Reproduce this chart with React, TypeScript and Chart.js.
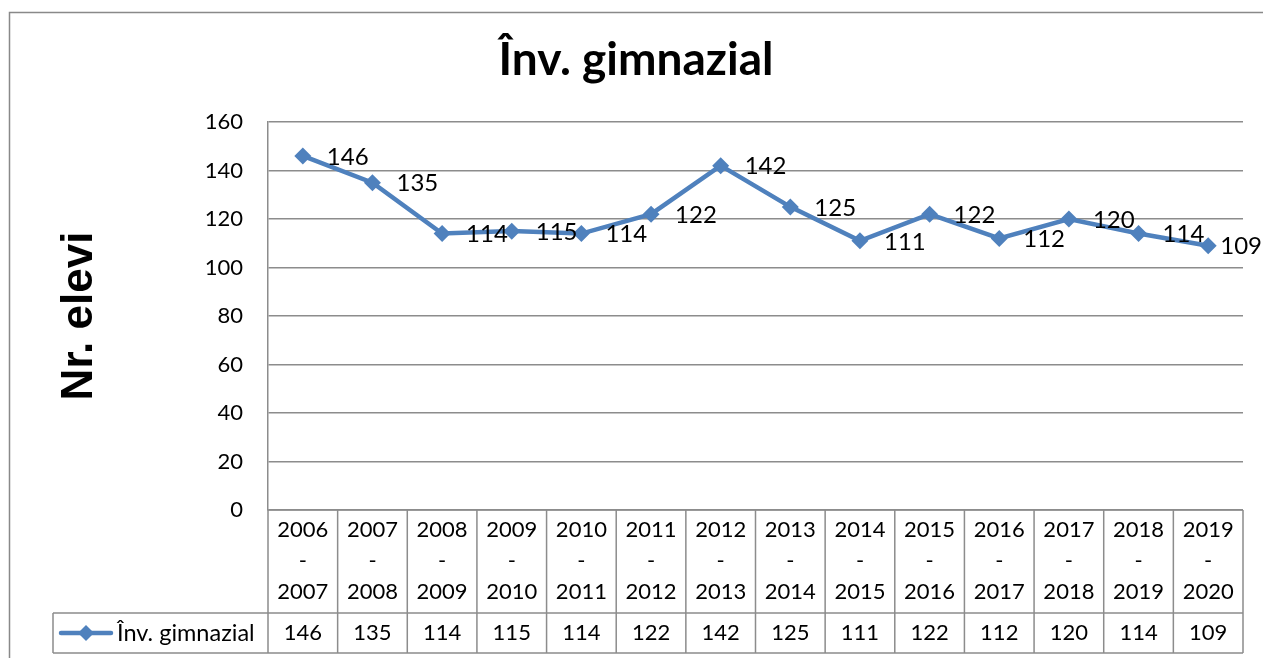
import React, { useEffect, useRef } from "react";
import { Chart, registerables } from "chart.js";

Chart.register(...registerables);

const TITLE = "Înv. gimnazial";
const Y_TITLE = "Nr. elevi";
const SERIES_NAME = "Înv. gimnazial";
const CATEGORIES = [
  "2006 - 2007",
  "2007 - 2008",
  "2008 - 2009",
  "2009 - 2010",
  "2010 - 2011",
  "2011 - 2012",
  "2012 - 2013",
  "2013 - 2014",
  "2014 - 2015",
  "2015 - 2016",
  "2016 - 2017",
  "2017 - 2018",
  "2018 - 2019",
  "2019 - 2020",
];
const VALUES = [146, 135, 114, 115, 114, 122, 142, 125, 111, 122, 112, 120, 114, 109];
const Y_MIN = 0;
const Y_MAX = 160;
const Y_STEP = 20;

const LINE_COLOR = "#4F81BD";
const GRID_COLOR = "#8c8c8c";
const FONT = "Lato";

export default function App() {
  const ref = useRef<HTMLCanvasElement>(null);

  useEffect(() => {
    const canvas = ref.current;
    if (!canvas) return;

    const overlay = {
      id: "overlay",
      afterDraw(chart: any) {
        const { ctx, chartArea } = chart;
        const { left, right, top, bottom } = chartArea;
        const xs = chart.scales.x;
        const n = CATEGORIES.length;
        const colW = (right - left) / n;
        ctx.save();

        // outer chart border
        ctx.strokeStyle = "#898989";
        ctx.lineWidth = 1.5;
        ctx.beginPath();
        ctx.moveTo(9.5, 700);
        ctx.lineTo(9.5, 12.5);
        ctx.lineTo(1300, 12.5);
        ctx.stroke();

        // title
        ctx.fillStyle = "#000";
        ctx.font = `bold 46px ${FONT}`;
        ctx.textAlign = "center";
        ctx.textBaseline = "alphabetic";
        ctx.fillText(TITLE, 636, 75);

        // y axis title
        ctx.save();
        ctx.translate(92, (top + bottom) / 2);
        ctx.rotate(-Math.PI / 2);
        ctx.font = `bold 44px "Liberation Sans"`;
        ctx.textAlign = "center";
        ctx.textBaseline = "alphabetic";
        ctx.fillText(Y_TITLE, 0, 0);
        ctx.restore();

        // data labels
        const meta = chart.getDatasetMeta(0);
        ctx.font = `24px ${FONT}`;
        ctx.textAlign = "left";
        ctx.textBaseline = "middle";
        const cw = chart.width;
        meta.data.forEach((pt: any, i: number) => {
          const txt = String(VALUES[i]);
          const w = ctx.measureText(txt).width;
          let x = pt.x + 24;
          if (x + w > cw - 1) x = cw - 1 - w;
          ctx.fillText(txt, x, pt.y + 1);
        });

        // data table
        const rowMid = 613;
        const rowBot = 653;
        const legLeft = 53;
        ctx.strokeStyle = GRID_COLOR;
        ctx.lineWidth = 1.5;
        ctx.beginPath();
        ctx.moveTo(left, bottom);
        ctx.lineTo(right, bottom);
        ctx.moveTo(legLeft, rowMid);
        ctx.lineTo(right, rowMid);
        ctx.moveTo(legLeft, rowBot);
        ctx.lineTo(right, rowBot);
        ctx.moveTo(legLeft, rowMid);
        ctx.lineTo(legLeft, rowBot);
        for (let i = 0; i <= n; i++) {
          const x = left + i * colW;
          ctx.moveTo(x, bottom);
          ctx.lineTo(x, rowBot);
        }
        ctx.stroke();

        ctx.fillStyle = "#000";
        ctx.font = `22px ${FONT}`;
        ctx.textAlign = "center";
        ctx.textBaseline = "middle";
        CATEGORIES.forEach((c, i) => {
          const cx = xs.getPixelForValue(i);
          const parts = c.split(" ");
          ctx.fillText(parts[0], cx, 530);
          ctx.fillText(parts[1], cx, 561);
          ctx.fillText(parts[2], cx, 592);
          ctx.fillText(String(VALUES[i]), cx, 633);
        });

        // legend key
        ctx.strokeStyle = LINE_COLOR;
        ctx.lineWidth = 4.5;
        ctx.lineCap = "round";
        ctx.beginPath();
        ctx.moveTo(61, 633);
        ctx.lineTo(111, 633);
        ctx.stroke();
        ctx.fillStyle = LINE_COLOR;
        ctx.beginPath();
        ctx.moveTo(86, 625);
        ctx.lineTo(94, 633);
        ctx.lineTo(86, 641);
        ctx.lineTo(78, 633);
        ctx.closePath();
        ctx.fill();
        ctx.fillStyle = "#000";
        ctx.textAlign = "left";
        ctx.font = `23.5px ${FONT}`;
        ctx.fillText(SERIES_NAME, 117, 633);

        ctx.restore();
      },
    };

    const chart = new Chart(canvas, {
      type: "line",
      data: {
        labels: CATEGORIES,
        datasets: [
          {
            label: SERIES_NAME,
            data: VALUES,
            borderColor: LINE_COLOR,
            backgroundColor: LINE_COLOR,
            borderWidth: 4.5,
            pointStyle: "rectRot",
            pointRadius: 8.5,
            pointBorderWidth: 0,
            pointBackgroundColor: LINE_COLOR,
            tension: 0,
          },
        ],
      },
      options: {
        responsive: false,
        animation: false,
        devicePixelRatio: 1,
        layout: { padding: { left: 0, top: 122, right: 20, bottom: 148 } },
        plugins: {
          legend: { display: false },
          title: { display: false },
          tooltip: { enabled: false },
        },
        scales: {
          x: {
            type: "category",
            display: false,
            offset: true,
          },
          y: {
            min: Y_MIN,
            max: Y_MAX,
            ticks: {
              stepSize: Y_STEP,
              color: "#000",
              font: { family: FONT, size: 22 },
              padding: 25,
            },
            grid: {
              color: GRID_COLOR,
              lineWidth: 1.5,
              drawTicks: false,
              tickLength: 0,
            },
            border: { color: GRID_COLOR, width: 1.5 },
            afterFit(scale: any) {
              scale.width = 268;
            },
          },
        },
      },
      plugins: [overlay],
    } as any);

    return () => chart.destroy();
  }, []);

  return (
    <div
      style={{
        position: "fixed",
        left: 0,
        top: 0,
        width: 1263,
        height: 658,
        background: "#fff",
      }}
    >
      <canvas ref={ref} width={1263} height={658} style={{ display: "block" }} />
    </div>
  );
}
